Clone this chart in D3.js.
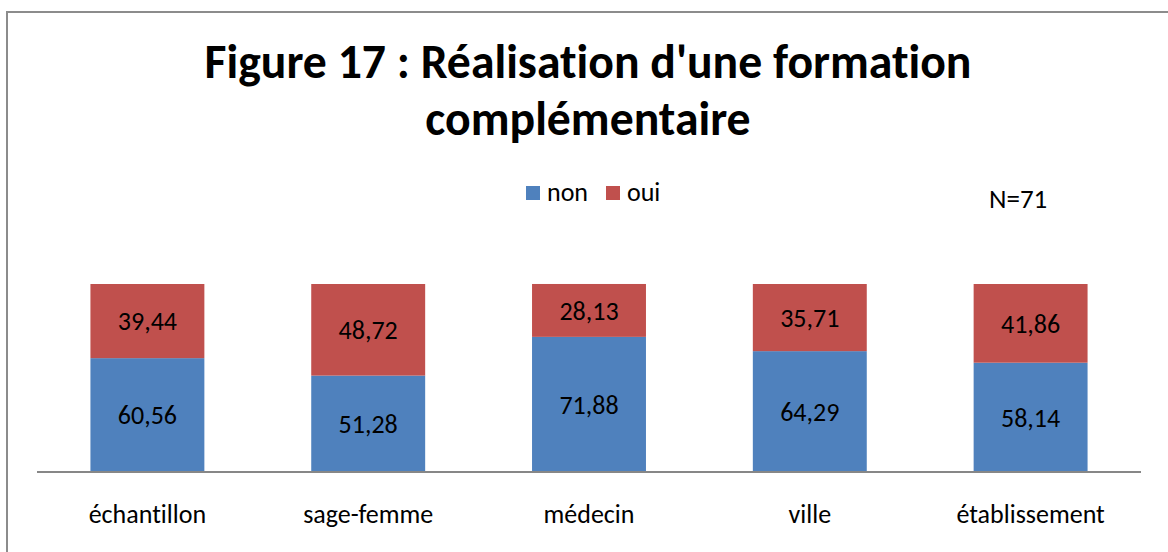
<!DOCTYPE html>
<html>
<head>
<meta charset="utf-8">
<script src="https://cdn.jsdelivr.net/npm/d3@7"></script>
<style>
  body { margin: 0; background: #fff; }
  svg text { font-family: Carlito, Calibri, Lato, sans-serif; fill: #000; font-variant-ligatures: none; }
</style>
</head>
<body>
<div id="chart"></div>
<script>
  // data
  var categories = ["échantillon", "sage-femme", "médecin", "ville", "établissement"];
  var nonValues = [60.56, 51.28, 71.88, 64.29, 58.14];
  var ouiValues = [39.44, 48.72, 28.13, 35.71, 41.86];
  var seriesNames = ["non", "oui"];
  var seriesColors = ["#4F81BD", "#C0504D"];
  var titleLines = ["Figure 17 : Réalisation d'une formation", "complémentaire"];
  var note = "N=71";

  var width = 1168, height = 552;
  var plot = {left: 37, right: 1141, top: 284, bottom: 472};

  var svg = d3.select("#chart").append("svg")
      .attr("width", width)
      .attr("height", height);

  // chart frame (only left and top edges are visible in the picture)
  svg.append("rect")
      .attr("x", 7).attr("y", 12)
      .attr("width", width + 20).attr("height", height + 20)
      .attr("fill", "none")
      .attr("stroke", "#8c8c8c")
      .attr("stroke-width", 2);

  var rows = categories.map(function(c, i){
    return {cat: c, non: nonValues[i], oui: ouiValues[i]};
  });
  var stack = d3.stack().keys(seriesNames)(rows);

  var x = d3.scaleBand()
      .domain(categories)
      .range([plot.left, plot.right])
      .paddingInner(0.484)
      .paddingOuter(0.242);

  var y = d3.scaleLinear()
      .domain([0, 100])
      .range([plot.bottom, plot.top]);

  var color = d3.scaleOrdinal().domain(seriesNames).range(seriesColors);

  var layers = svg.append("g").selectAll("g")
      .data(stack)
    .enter().append("g")
      .attr("fill", function(d){ return color(d.key); });

  layers.selectAll("rect")
      .data(function(d){ return d; })
    .enter().append("rect")
      .attr("x", function(d){ return x(d.data.cat); })
      .attr("y", function(d){ return y(d[1]); })
      .attr("width", x.bandwidth())
      .attr("height", function(d){ return y(d[0]) - y(d[1]); });

  var fmt = function(v){ return v.toFixed(2).replace(".", ","); };

  layers.selectAll("text")
      .data(function(d){ return d.map(function(p){ return {p: p, key: d.key}; }); })
    .enter().append("text")
      .attr("x", function(d){ return x(d.p.data.cat) + x.bandwidth() / 2; })
      .attr("y", function(d){ return (y(d.p[0]) + y(d.p[1])) / 2; })
      .attr("dy", "0.36em")
      .attr("text-anchor", "middle")
      .style("font-size", "26px")
      .style("fill", "#000")
      .text(function(d){ return fmt(d.p.data[d.key]); });

  // category axis
  var xAxis = svg.append("g")
      .attr("transform", "translate(0," + plot.bottom + ")")
      .call(d3.axisBottom(x).tickSize(0).tickPadding(33));
  xAxis.select(".domain")
      .attr("d", "M" + plot.left + ",0H" + plot.right)
      .attr("stroke", "#878787")
      .attr("stroke-width", 2);
  xAxis.selectAll("text")
      .style("font-size", "26px")
      .style("font-family", "Carlito, Calibri, Lato, sans-serif")
      .attr("fill", "#000");

  // title, fitted to the width it has in the picture
  var titleWidth = 767;
  var titleBase = [78, 135];
  var titleSize;
  titleLines.forEach(function(t, i){
    var el = svg.append("text")
        .attr("x", 588)
        .attr("y", titleBase[i])
        .attr("text-anchor", "middle")
        .style("font-weight", "bold")
        .style("font-size", "40px")
        .text(t);
    if (i === 0) titleSize = 40 * titleWidth / el.node().getComputedTextLength();
    el.style("font-size", titleSize + "px");
  });

  // legend
  var legend = svg.append("g");
  var legendX = [526, 606];
  seriesNames.forEach(function(s, i){
    legend.append("rect")
        .attr("x", legendX[i]).attr("y", 186)
        .attr("width", 14).attr("height", 14)
        .attr("fill", color(s));
    legend.append("text")
        .attr("x", legendX[i] + 21).attr("y", 201)
        .style("font-size", "26px")
        .text(s);
  });

  svg.append("text")
      .attr("x", 989).attr("y", 208)
      .style("font-size", "27px")
      .text(note);
</script>
</body>
</html>
